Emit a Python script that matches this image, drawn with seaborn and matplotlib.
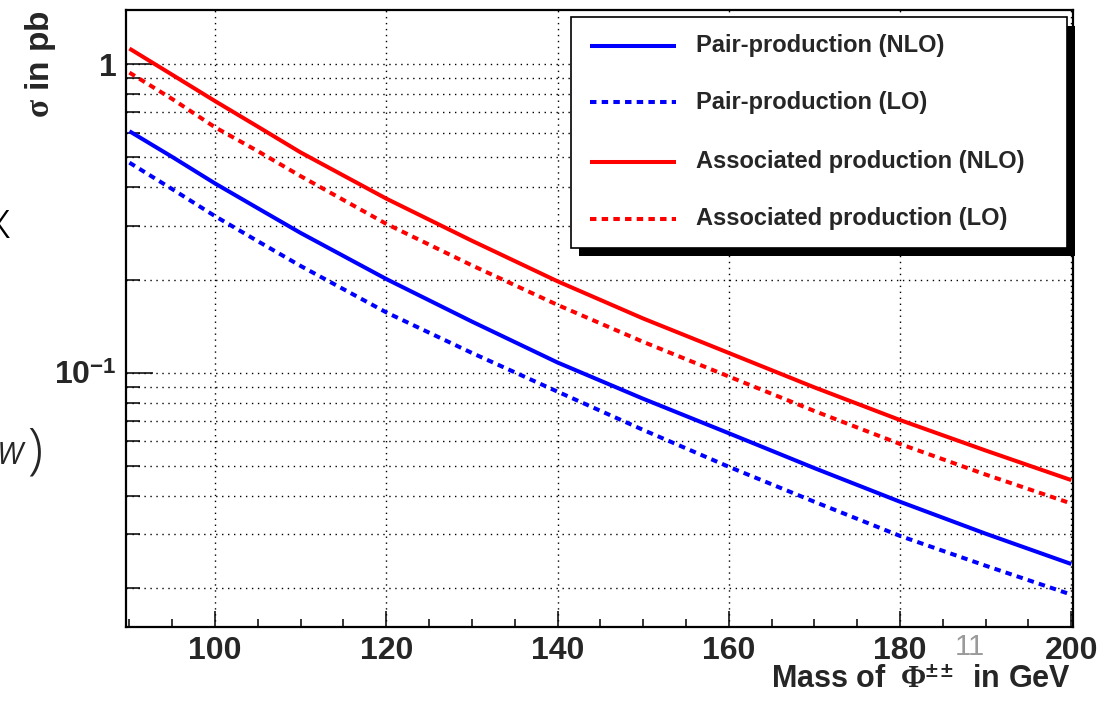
import numpy as np
import pandas as pd
import matplotlib
matplotlib.use("Agg")
import matplotlib.pyplot as plt
import seaborn as sns
from matplotlib.patches import Rectangle
from matplotlib.lines import Line2D
from matplotlib.ticker import FixedLocator, FixedFormatter, MultipleLocator, LogLocator, NullFormatter

# ---------------- data ----------------
mass = [90, 95, 100, 105, 110, 120, 130, 140, 150, 160, 170, 180, 190, 200]
pair_nlo = [0.607, 0.501, 0.411, 0.3415, 0.284, 0.2014, 0.1466, 0.108, 0.0824, 0.0637,
            0.0491, 0.0382, 0.0301, 0.0240]
pair_lo = [0.480, 0.394, 0.322, 0.267, 0.222, 0.157, 0.116, 0.0869, 0.0653, 0.0496,
           0.0382, 0.0296, 0.0237, 0.0191]
assoc_nlo = [1.125, 0.925, 0.760, 0.628, 0.518, 0.367, 0.268, 0.198, 0.150, 0.116,
             0.0897, 0.0703, 0.0560, 0.0449]
assoc_lo = [0.940, 0.772, 0.625, 0.523, 0.434, 0.304, 0.223, 0.166, 0.126, 0.0973,
            0.0752, 0.0588, 0.0468, 0.0377]

series_names = ["Pair-production (NLO)", "Pair-production (LO)",
                "Associated production (NLO)", "Associated production (LO)"]
x_ticks = [100, 120, 140, 160, 180, 200]
y_ticks = [0.1, 1]
y_tick_labels = ["10$^{-1}$", "1"]

# ---------------- style ----------------
sns.set_style("white")
plt.rcParams["font.family"] = ["Liberation Sans", "DejaVu Sans"]
plt.rcParams["font.weight"] = "bold"
plt.rcParams["mathtext.fontset"] = "custom"
plt.rcParams["mathtext.rm"] = "Liberation Sans:bold"
plt.rcParams["mathtext.bf"] = "Liberation Sans:bold"
plt.rcParams["mathtext.sf"] = "Liberation Serif"
plt.rcParams["mathtext.it"] = "Liberation Serif"

W, H = 1115, 702
def fx(px):
    return px / W
def fy(py):
    return 1 - py / H

fig = plt.figure(figsize=(W / 100, H / 100), dpi=100)
fig.patch.set_facecolor("white")
ax = fig.add_axes([fx(126), fy(627), (1073 - 126) / W, (627 - 10) / H])
ax.set_facecolor("white")

BLUE = (0, 0, 1)
RED = (1, 0, 0)
LW = 2.9
DASH = (0, (1.6, 1.3))

specs = [
    (pair_nlo, BLUE, "-"),
    (pair_lo, BLUE, DASH),
    (assoc_nlo, RED, "-"),
    (assoc_lo, RED, DASH),
]
for vals, col, ls in specs:
    sns.lineplot(x=mass, y=vals, ax=ax, color=col, linewidth=LW, linestyle=ls,
                 solid_capstyle="butt", dash_capstyle="butt", zorder=3)

ax.set_yscale("log")
ax.set_xlim(89.6, 200.2)
ax.set_ylim(0.015, 1.5)

ax.xaxis.set_major_locator(FixedLocator(x_ticks))
ax.xaxis.set_minor_locator(MultipleLocator(5))
ax.yaxis.set_major_locator(FixedLocator(y_ticks))
ax.yaxis.set_major_formatter(FixedFormatter(y_tick_labels))
ax.yaxis.set_minor_locator(LogLocator(base=10, subs=np.arange(2, 10)))
ax.yaxis.set_minor_formatter(NullFormatter())

GRID = dict(color="black", linestyle=(0, (1, 3.3)), linewidth=1.0)
ax.grid(which="major", axis="both", **GRID)
ax.grid(which="minor", axis="y", **GRID)
ax.set_axisbelow(True)

for s in ax.spines.values():
    s.set_color("black")
    s.set_linewidth(1.6)

ax.tick_params(axis="x", which="major", direction="in", length=11.5, width=1.1,
               color="black", top=False, bottom=True, pad=6.5, labelsize=23)
ax.tick_params(axis="x", which="minor", direction="in", length=5.8, width=1.1,
               color="black", top=False, bottom=True)
ax.tick_params(axis="y", which="major", direction="in", length=19.5, width=1.1,
               color="black", right=False, left=True, pad=7, labelsize=23)
ax.tick_params(axis="y", which="minor", direction="in", length=10, width=1.1,
               color="black", right=False, left=True)
ax.set_xlabel("")
ax.set_ylabel("")

# axis titles
fig.text(fx(1071), fy(688), r"Mass of $\;\mathsf{\Phi}^{\pm\pm}\;$ in GeV", ha="right",
         va="baseline", fontsize=22, fontweight="bold")
fig.text(fx(41), fy(10), r"$\mathsf{\sigma}$ in pb", rotation=90, ha="center",
         va="top", fontsize=24, fontweight="bold")

# ---------------- legend (ROOT style box with shadow) ----------------
bx0, by0, bx1, by1 = 571, 17.5, 1067, 248
sh = 8
fig.add_artist(Rectangle((fx(bx0 + sh), fy(by1 + sh)), (bx1 - bx0) / W, (by1 - by0) / H,
                         transform=fig.transFigure, facecolor="black", edgecolor="none",
                         zorder=10))
fig.add_artist(Rectangle((fx(bx0), fy(by1)), (bx1 - bx0) / W, (by1 - by0) / H,
                         transform=fig.transFigure, facecolor="white", edgecolor="black",
                         linewidth=1.2, zorder=11))
entry_y = [45.5, 102, 161.6, 219]
for (vals, col, ls), name, ey in zip(specs, series_names, entry_y):
    fig.add_artist(Line2D([fx(590), fx(676)], [fy(ey), fy(ey)], transform=fig.transFigure,
                          color=col, linewidth=LW, linestyle=ls, dash_capstyle="butt",
                          solid_capstyle="butt", zorder=12))
    fig.text(fx(696), fy(ey), name, ha="left", va="center", fontsize=17,
             fontweight="bold", zorder=12)

# ---------------- stray slide text visible in the screenshot ----------------
fig.text(fx(-15), fy(238), "x", ha="left", va="baseline", fontsize=38,
         fontweight="light", family=["Open Sans", "DejaVu Sans"], color="black")
fig.text(fx(-3), fy(464), "W", ha="left", va="baseline", fontsize=22,
         fontweight="normal", fontstyle="italic", family=["Open Sans", "DejaVu Sans"])
fig.text(fx(27), fy(467), ")", ha="left", va="baseline", fontsize=40,
         fontweight="light", family=["Open Sans", "DejaVu Sans"])
fig.text(fx(970), fy(655), "11", ha="center", va="baseline", fontsize=21,
         fontweight="normal", family=["Liberation Sans", "DejaVu Sans"],
         color="#9a9a9a")

fig.savefig("out.png", dpi=100, facecolor="white")
